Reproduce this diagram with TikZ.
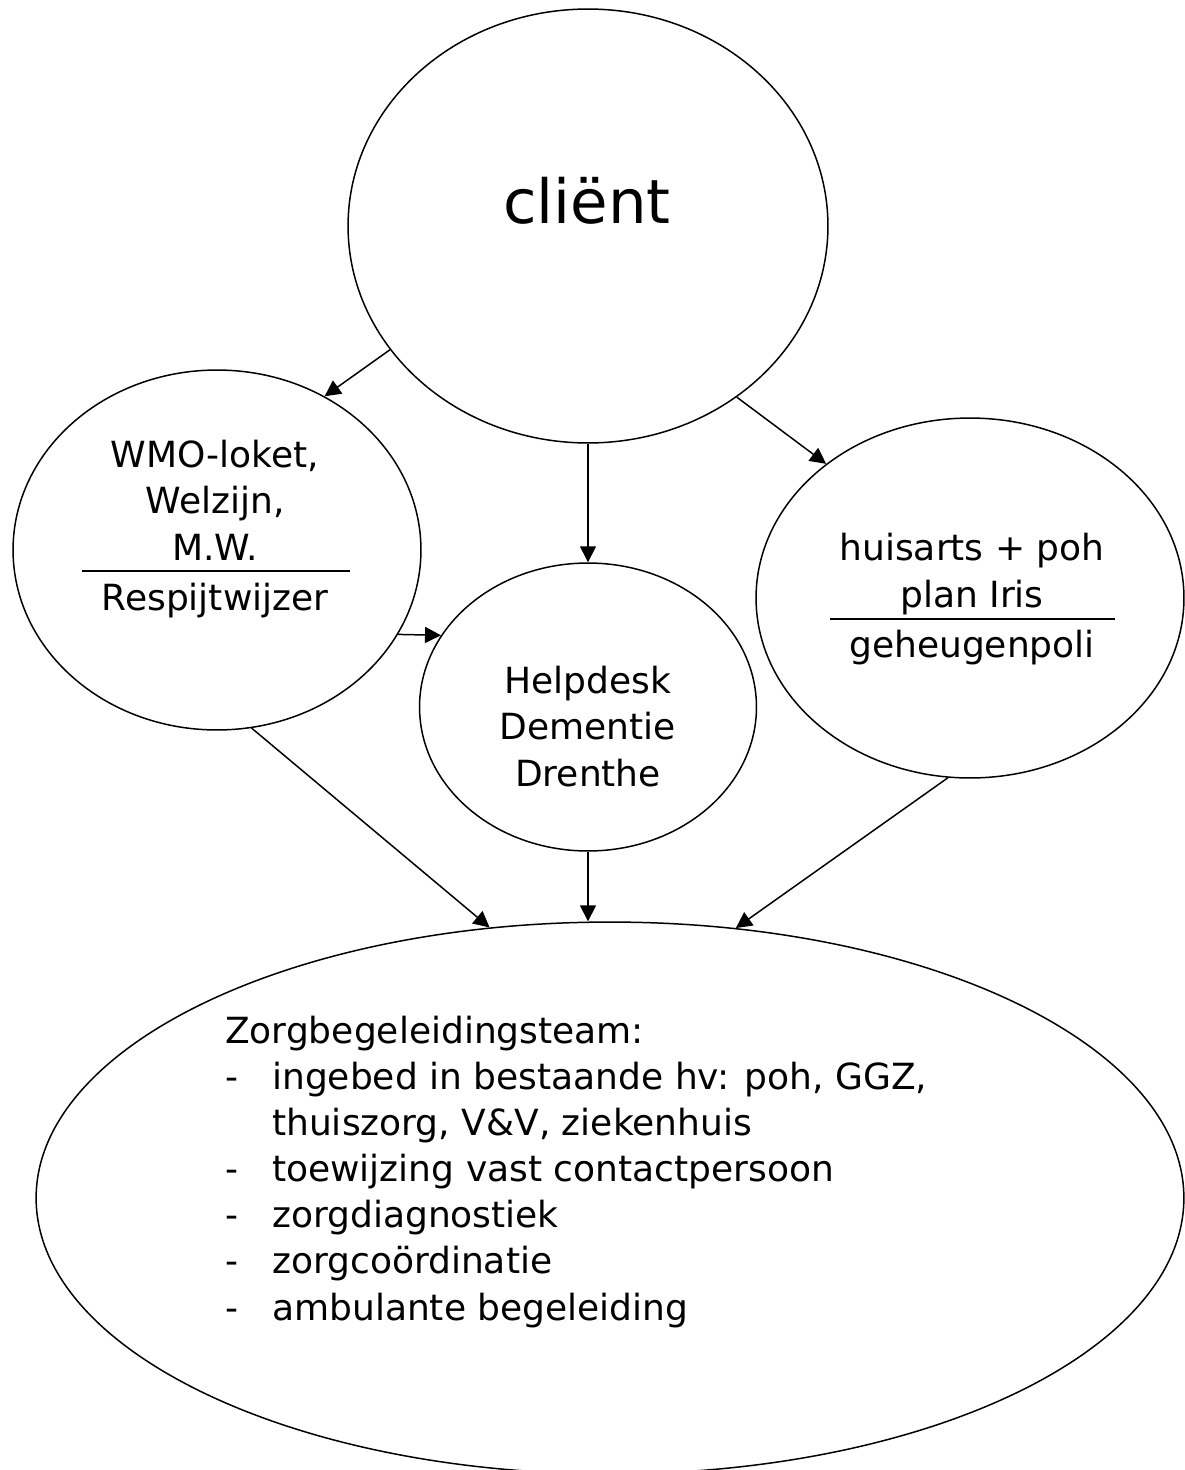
\documentclass[tikz,border=0pt]{standalone}
\usepackage{fontspec}
\setmainfont{DejaVu Sans}
\usetikzlibrary{arrows.meta,shapes.geometric}
\newcommand{\streepje}{\makebox[0.94cm][l]{-}}

\begin{document}
\begin{tikzpicture}[x=0.02cm,y=-0.02cm,
		bol/.style={draw,ellipse,inner sep=0pt,line width=0.85pt},
		txt/.style={font=\fontsize{20.5}{26.2}\selectfont,align=center,anchor=base},
		pijl/.style={-{Triangle[length=0.32cm,width=0.32cm]},line width=0.85pt}]
		\useasboundingbox (0,0) rectangle (1184,1470);
		% ellipsen
		\node[bol,minimum width=9.6cm,minimum height=8.68cm] (client) at (588,226) {};
		\node[bol,minimum width=8.16cm,minimum height=7.2cm] (wmo) at (217,550) {};
		\node[bol,minimum width=8.56cm,minimum height=7.2cm] (huis) at (970,598) {};
		\node[bol,minimum width=6.74cm,minimum height=5.76cm] (help) at (588,707) {};
		\node[bol,minimum width=22.96cm,minimum height=11.04cm] (zorg) at (610,1198) {};
		% teksten (base = laatste regel)
		\node[txt,font=\fontsize{34.7}{40}\selectfont] (clienttxt) at (587,223) {cliënt};
		\node[txt] (wmotxt) at (215,560) {WMO-loket,\\Welzijn,\\M.W.};
		\node[txt] (respijt) at (215,610) {Respijtwijzer};
		\node[txt] (huistxt) at (972,607) {huisarts + poh\\plan Iris};
		\node[txt] (poli) at (972,657) {geheugenpoli};
		\node[txt] (helptxt) at (588,786) {Helpdesk\\Dementie\\Drenthe};
		\node[txt,align=left,anchor=base west] (zorgtxt) at (219,1320) {Zorgbegeleidingsteam:\\
			\streepje ingebed in bestaande hv: poh, GGZ,\\
			\hspace*{0.94cm}thuiszorg, V\&V, ziekenhuis\\
			\streepje toewijzing vast contactpersoon\\
			\streepje zorgdiagnostiek\\
			\streepje zorgcoördinatie\\
			\streepje ambulante begeleiding};
		\draw[line width=0.85pt] (82,571) -- (350,571);
		\draw[line width=0.85pt] (830,619) -- (1115,619);
		% pijlen
		\draw[pijl] (client.212) -- (wmo.55);
		\draw[pijl] (client.311) -- (huis.137);
		\draw[pijl] (client.south) -- (help.north);
		\draw[pijl] (wmo.335) -- (help.154);
		\draw[pijl] (wmo.281) -- (zorg.114);
		\draw[pijl] (help.south) -- (help.south |- zorg.north);
		\draw[pijl] (huis.263) -- (zorg.65.5);
\end{tikzpicture}
\end{document}
